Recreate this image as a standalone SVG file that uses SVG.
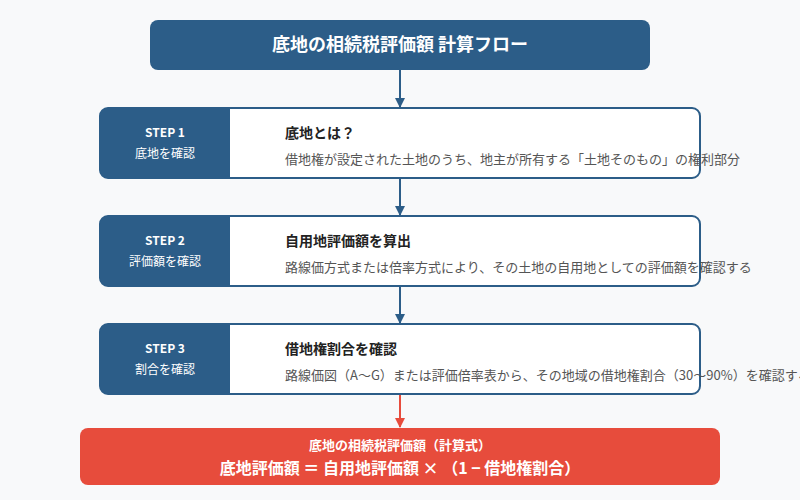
<svg xmlns="http://www.w3.org/2000/svg" width="800" height="500" viewBox="0 0 800 500">
<defs>
<style>
text{font-family:"Noto Sans CJK JP","Noto Sans",sans-serif}
.card{fill:#fff;stroke:#2c5d88;stroke-width:2}
.tab{fill:#2c5d88}
.st{fill:#fff;font-size:12px;font-weight:bold;text-anchor:middle}
.ss{fill:#fff;font-size:12px;text-anchor:middle}
.h{fill:#222;font-size:14px;font-weight:bold}
.d{fill:#555;font-size:13px}
.ln{stroke:#2c5d88;stroke-width:2;fill:none}
</style>
<marker id="ab" viewBox="0 0 10 10" refX="9" refY="5" markerWidth="5" markerHeight="5" orient="auto"><path d="M0,0L10,5L0,10z" fill="#2c5d88"/></marker>
<marker id="ar" viewBox="0 0 10 10" refX="9" refY="5" markerWidth="5" markerHeight="5" orient="auto"><path d="M0,0L10,5L0,10z" fill="#e74c3c"/></marker>
</defs>
<rect width="800" height="500" fill="#f8f9fa"/>
<g id="connectors">
<line class="ln" x1="400" y1="70" x2="400" y2="107" marker-end="url(#ab)"/>
<line class="ln" x1="400" y1="178" x2="400" y2="215" marker-end="url(#ab)"/>
<line class="ln" x1="400" y1="286" x2="400" y2="323" marker-end="url(#ab)"/>
<line x1="400" y1="394" x2="400" y2="427" stroke="#e74c3c" stroke-width="2" marker-end="url(#ar)"/>
</g>
<g id="title">
<rect x="150" y="20" width="500" height="50" rx="8" fill="#2c5d88"/>
<text x="400" y="51" fill="#fff" font-size="18" font-weight="bold" text-anchor="middle">底地の相続税評価額 計算フロー</text>
</g>
<g id="step1">
<rect class="card" x="100" y="108" width="600" height="70" rx="8"/>
<path class="tab" d="M108,108H230V178H108A8,8 0 0 1 100,170V116A8,8 0 0 1 108,108Z"/>
<text class="st" x="165" y="137">STEP 1</text>
<text class="ss" x="165" y="158">底地を確認</text>
<text class="h" x="285" y="138">底地とは？</text>
<text class="d" x="285" y="164">借地権が設定された土地のうち、地主が所有する「土地そのもの」の権利部分</text>
</g>
<g id="step2">
<rect class="card" x="100" y="216" width="600" height="70" rx="8"/>
<path class="tab" d="M108,216H230V286H108A8,8 0 0 1 100,278V224A8,8 0 0 1 108,216Z"/>
<text class="st" x="165" y="245">STEP 2</text>
<text class="ss" x="165" y="266">評価額を確認</text>
<text class="h" x="285" y="246">自用地評価額を算出</text>
<text class="d" x="285" y="272">路線価方式または倍率方式により、その土地の自用地としての評価額を確認する</text>
</g>
<g id="step3">
<rect class="card" x="100" y="324" width="600" height="70" rx="8"/>
<path class="tab" d="M108,324H230V394H108A8,8 0 0 1 100,386V332A8,8 0 0 1 108,324Z"/>
<text class="st" x="165" y="353">STEP 3</text>
<text class="ss" x="165" y="374">割合を確認</text>
<text class="h" x="285" y="354">借地権割合を確認</text>
<text class="d" x="285" y="380">路線価図（A〜G）または評価倍率表から、その地域の借地権割合（30〜90%）を確認する</text>
</g>
<g id="result">
<rect x="80" y="428" width="640" height="57" rx="8" fill="#e74c3c"/>
<text x="400" y="450" fill="#fff" font-size="13" font-weight="bold" text-anchor="middle">底地の相続税評価額（計算式）</text>
<text x="400" y="474" fill="#fff" font-size="16" font-weight="bold" text-anchor="middle">底地評価額 ＝ 自用地評価額 × （1 − 借地権割合）</text>
</g>
</svg>
